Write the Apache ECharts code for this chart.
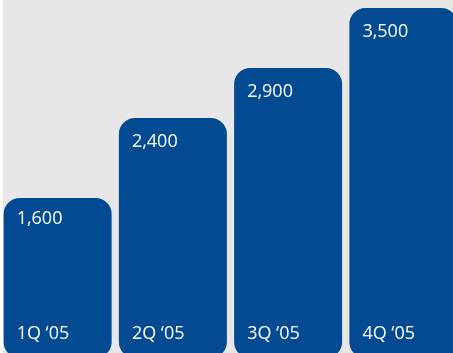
<!DOCTYPE html>
<html>
<head>
<meta charset="utf-8">
<script src="https://cdn.jsdelivr.net/npm/echarts@6/dist/echarts.min.js"></script>
<style>
html,body{margin:0;padding:0;background:#ffffff;overflow:hidden;width:453px;height:353px;}
#chart{width:461px;height:358px;}
</style>
</head>
<body>
<div id="chart"></div>
<script>
const categories = ['1Q \u201805', '2Q \u201805', '3Q \u201805', '4Q \u201805'];
const values = [1600, 2400, 2900, 3500];

const chart = echarts.init(document.getElementById('chart'), null, {renderer: 'canvas'});
const barColor = '#024a91';
const font = '"Open Sans", "DejaVu Sans", sans-serif';

const valueData = values.map((v, i) => i === 0
  ? {value: v, label: {offset: [0, -1]}}
  : {value: v});

chart.setOption({
  animation: false,
  backgroundColor: 'transparent',
  graphic: [{
    type: 'rect', z: -10, silent: true,
    shape: {x: 3, y: 0, width: 460, height: 360},
    style: {fill: '#e7e7e7'}
  }],
  grid: {left: 0, right: 0, top: 8, bottom: 0, containLabel: false},
  xAxis: {
    type: 'category', data: categories,
    axisLine: {show: false}, axisTick: {show: false}, axisLabel: {show: false}, splitLine: {show: false}
  },
  yAxis: {
    type: 'value', min: 0, max: 3500,
    axisLine: {show: false}, axisTick: {show: false}, axisLabel: {show: false}, splitLine: {show: false}
  },
  series: [{
    type: 'bar', data: valueData, barWidth: 108,
    itemStyle: {color: barColor, borderRadius: 16},
    label: {
      show: true, position: 'insideTopLeft', distance: 13, offset: [0, 2],
      color: '#ffffff', fontSize: 18, fontFamily: font,
      formatter: p => p.value.toLocaleString('en-US')
    }
  }, {
    type: 'bar', data: values, barWidth: 108, barGap: '-100%',
    itemStyle: {color: 'rgba(0,0,0,0)'},
    label: {
      show: true, position: 'insideBottomLeft', distance: 13, offset: [0, -2],
      color: '#ffffff', fontSize: 18, fontFamily: font,
      formatter: p => p.name
    }
  }]
});
</script>
</body>
</html>
